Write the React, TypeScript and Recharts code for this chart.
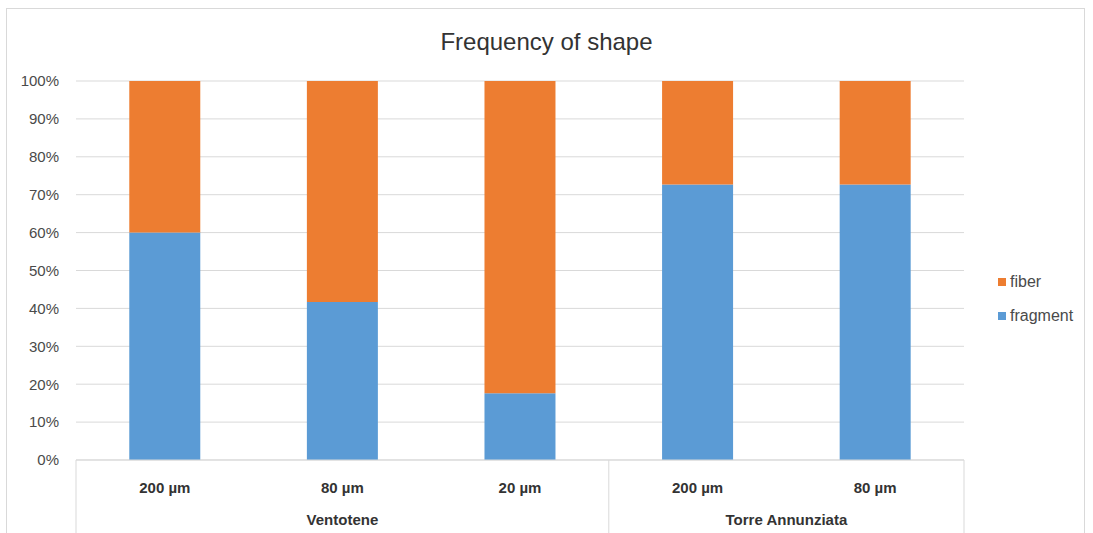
import React from 'react';
import { BarChart, Bar, XAxis, YAxis, CartesianGrid } from 'recharts';

// Particle size class and sampling site for each bar
const sizes = ['200 µm', '80 µm', '20 µm', '200 µm', '80 µm'];
const sites = ['Ventotene', 'Ventotene', 'Ventotene', 'Torre Annunziata', 'Torre Annunziata'];

// Share of each shape (%)
const fragmentPct = [60, 41.7, 17.6, 72.7, 72.7];
const fiberPct = [40, 58.3, 82.4, 27.3, 27.3];

const yTicks = [0, 10, 20, 30, 40, 50, 60, 70, 80, 90, 100];

// Series definitions (stack order bottom → top)
const series = [
  { key: 'fragment', color: '#5b9bd5' },
  { key: 'fiber', color: '#ed7d31' },
];

const data = sizes.map((size, i) => ({
  size,
  site: sites[i],
  fragment: fragmentPct[i],
  fiber: fiberPct[i],
}));

const FONT = "'Liberation Sans', Arial, sans-serif";
const GRID = '#d9d9d9';
const TEXT = '#4a4a4a';

// Two-level category tick: size label on the first row, site label centred
// under its group on the second row, with separators between groups.
const SizeSiteTick = (props: any) => {
  const { x, y, payload } = props;
  const i: number = payload.index ?? props.index;
  const half: number = payload.offset ?? 0;
  const site = sites[i];
  const isFirst = i === 0 || sites[i - 1] !== site;
  const isLast = i === sites.length - 1;
  let n = 0;
  while (sites[i + n] === site) n++;
  return (
    <g>
      <text
        x={x}
        y={y + 27}
        textAnchor="middle"
        dominantBaseline="central"
        fontFamily={FONT}
        fontSize={15}
        fontWeight="bold"
        fill="#333"
      >
        {payload.value}
      </text>
      {isFirst && (
        <line x1={x - half} x2={x - half} y1={y} y2={y + 80} stroke={GRID} strokeWidth={1} />
      )}
      {isLast && (
        <line x1={x + half} x2={x + half} y1={y} y2={y + 80} stroke={GRID} strokeWidth={1} />
      )}
      {isFirst && (
        <text
          x={x + (n - 1) * half}
          y={y + 59}
          textAnchor="middle"
          dominantBaseline="central"
          fontFamily={FONT}
          fontSize={15}
          fontWeight="bold"
          fill="#333"
        >
          {site}
        </text>
      )}
    </g>
  );
};

export default function App() {
  return (
    <div style={{ position: 'absolute', left: 0, top: 0, width: 1093, height: 533, background: '#fff', overflow: 'hidden' }}>
      <div
        style={{
          position: 'absolute',
          left: 6,
          top: 8,
          width: 1079,
          height: 540,
          border: `1px solid ${GRID}`,
          boxSizing: 'border-box',
        }}
      />
      <div
        style={{
          position: 'absolute',
          left: 0,
          top: 27,
          width: 1093,
          textAlign: 'center',
          fontFamily: FONT,
          fontSize: 24,
          color: '#333',
          lineHeight: '30px',
        }}
      >
        Frequency of shape
      </div>
      <div style={{ position: 'absolute', left: 0, top: 0 }}>
        <BarChart
          width={1093}
          height={533}
          data={data}
          margin={{ top: 81, right: 129, bottom: 0, left: 16 }}
          barCategoryGap="30%"
        >
          <CartesianGrid horizontal vertical={false} stroke={GRID} strokeWidth={1} />
          <XAxis
            dataKey="size"
            height={73}
            interval={0}
            tickLine={false}
            tickSize={0}
            tickMargin={0}
            axisLine={{ stroke: GRID }}
            tick={<SizeSiteTick />}
          />
          <YAxis
            width={60}
            domain={[0, 100]}
            ticks={yTicks}
            interval={0}
            axisLine={false}
            tickLine={false}
            tickSize={0}
            tickMargin={17}
            tickFormatter={(v: number) => `${v}%`}
            tick={{ fontFamily: FONT, fontSize: 15, fill: TEXT }}
          />
          {series.map((s) => (
            <Bar key={s.key} dataKey={s.key} stackId="s" fill={s.color} isAnimationActive={false} />
          ))}
        </BarChart>
      </div>
      {/* Legend, listed top series first */}
      <div style={{ position: 'absolute', left: 998, top: 265, fontFamily: FONT, fontSize: 16, color: TEXT }}>
        {[...series].reverse().map((s) => (
          <div key={s.key} style={{ display: 'flex', alignItems: 'center', height: 34 }}>
            <span style={{ display: 'inline-block', width: 8, height: 8, background: s.color, marginRight: 4 }} />
            <span>{s.key}</span>
          </div>
        ))}
      </div>
    </div>
  );
}
